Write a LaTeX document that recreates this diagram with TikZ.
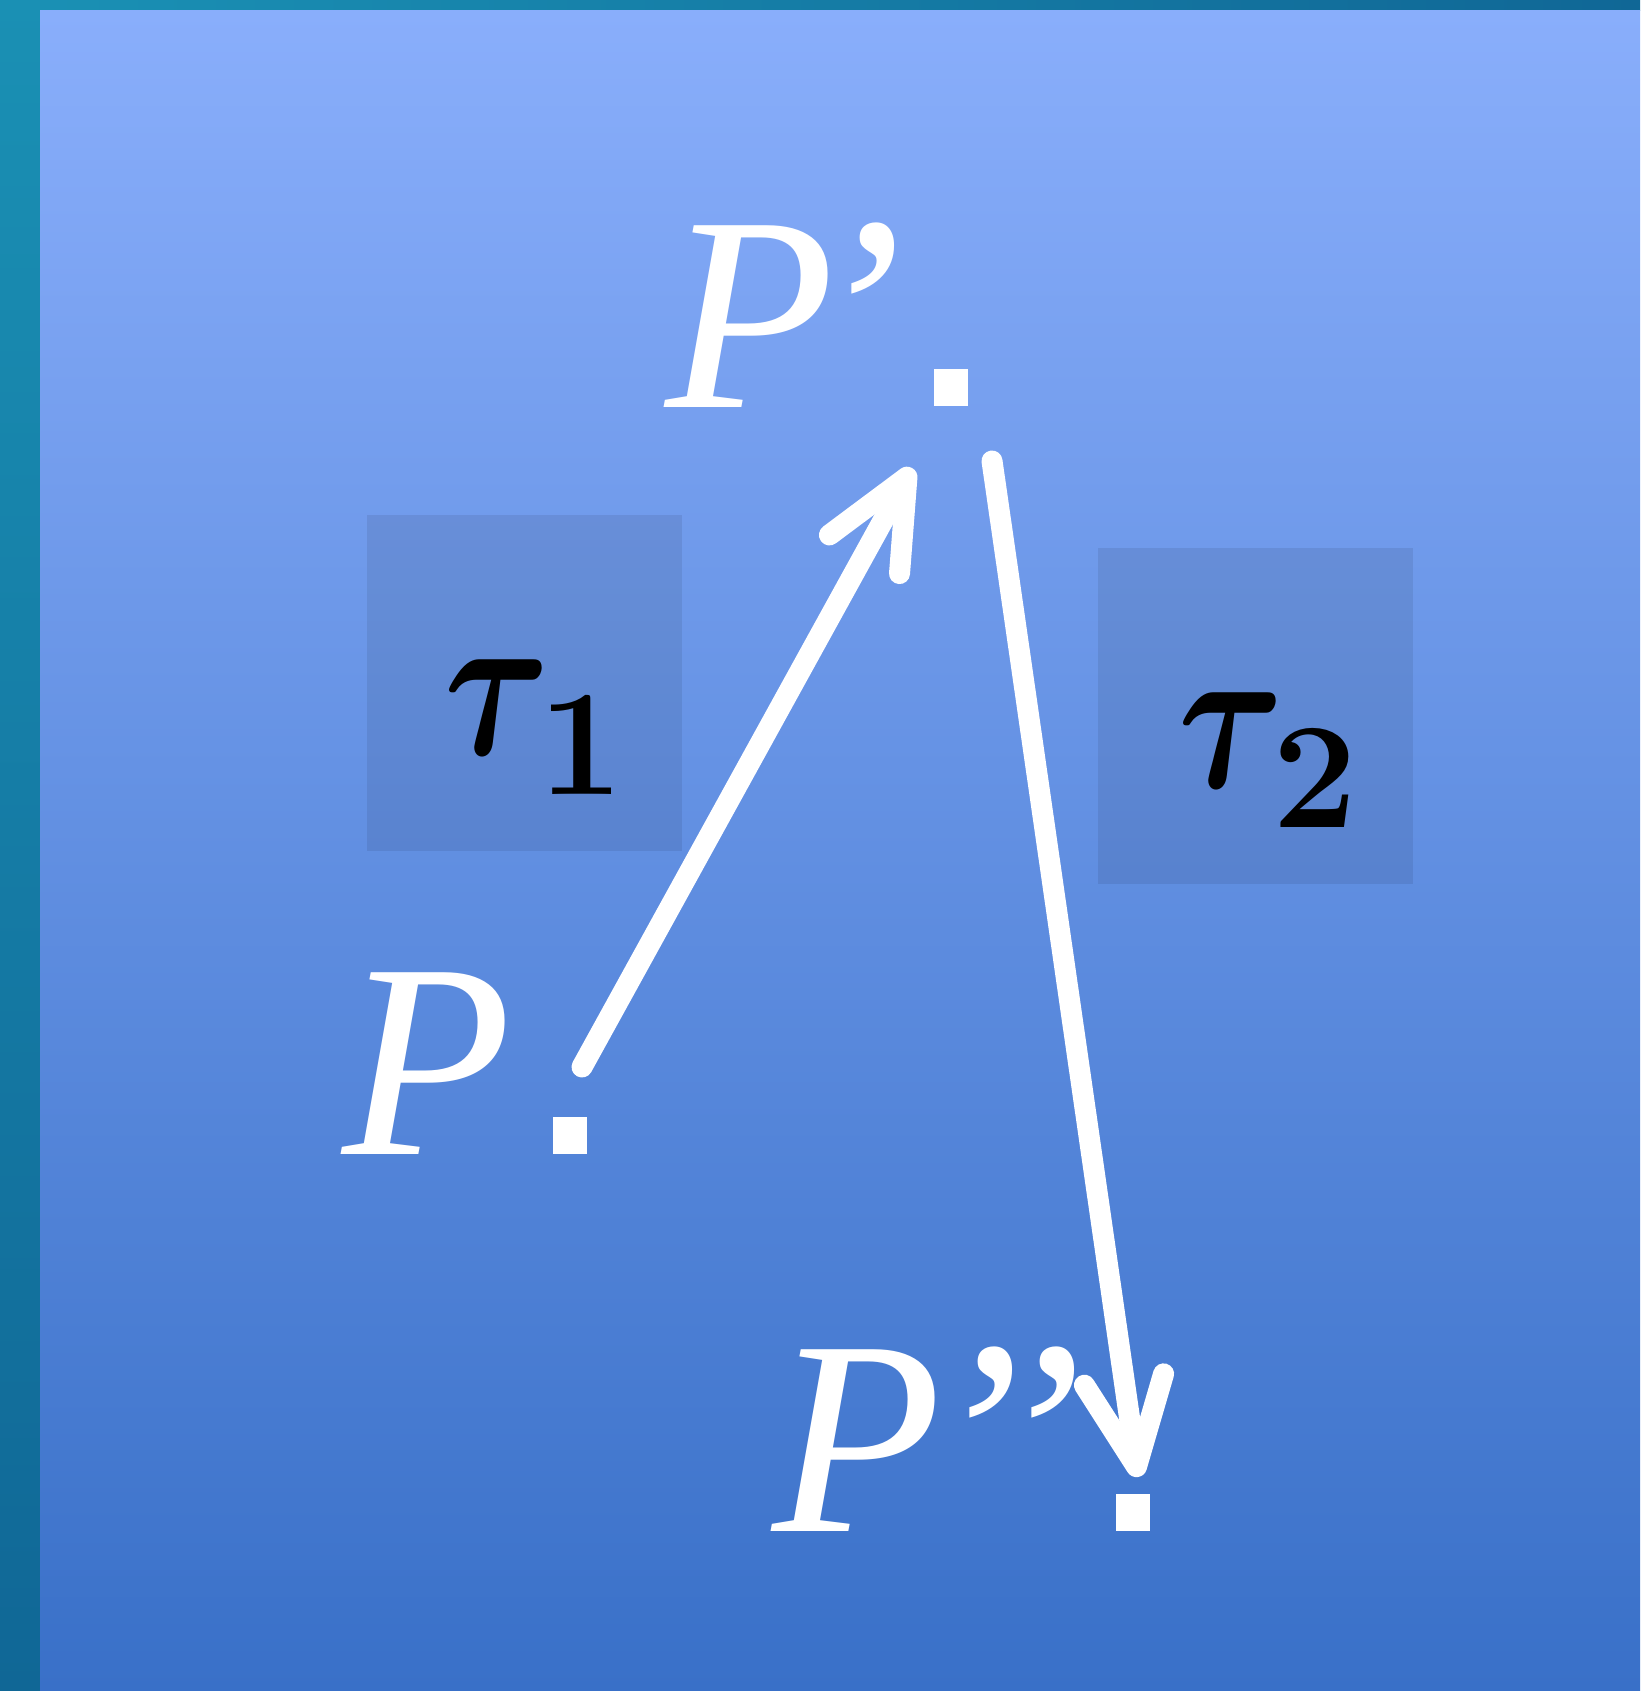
\RequirePackage{fix-cm}
\documentclass[tikz,border=0pt]{standalone}
\usepackage{fontspec}
\usetikzlibrary{arrows.meta,positioning}
\newfontfamily\labelfont{Liberation Serif}
\DeclareMathSizes{46}{46}{43}{33}
\newcommand{\tallTau}{\scalebox{1}[1.32]{$\tau$}}
\definecolor{panelTop}{RGB}{137,174,251}
\definecolor{panelBot}{RGB}{57,112,200}
\definecolor{frameA}{RGB}{26,144,180}
\definecolor{frameB}{RGB}{16,103,150}
\begin{document}
\begin{tikzpicture}[x=0.1mm,y=-0.1mm,line cap=round,
  dot/.style={fill=white,inner sep=0pt,minimum width=3.4mm,minimum height=3.7mm},
  plabel/.style={text=white,font=\labelfont\itshape\fontsize{79}{80}\selectfont,inner sep=0pt},
  tlabel/.style={text=black,font=\fontsize{46}{50}\selectfont\boldmath,inner sep=0pt},
  tbox/.style={fill=black,fill opacity=0.08,inner sep=0pt,minimum width=31.5mm,minimum height=33.6mm},
  move/.style={white,line width=2.1mm,-{Straight Barb[length=8.8mm,width=8mm,round]}}]
% background: frame and panel
\shade[top color=frameA,bottom color=frameB] (0,0) rectangle (40,1691);
\shade[left color=frameA,right color=frameB] (40,0) rectangle (1640,11);
\shade[top color=panelTop,bottom color=panelBot] (40,11) rectangle (1640,1691);
% shaded boxes behind the taus
\node[tbox] (box1) at (524,683) {};
\node[tbox] (box2) at (1255,716) {};
\node[tlabel] (tau1) at (535,727) {$\tallTau_{\kern-3.5pt 1}$};
\node[tlabel] (tau2) at (1269,760) {$\tallTau_{\kern-3.5pt 2}$};
% points
\node[dot] (pdot) at (570,1135) {};
\node[dot] (p1dot) at (951,388) {};
\node[dot] (p2dot) at (1133,1512) {};
% labels
\node[plabel,anchor=base east] (plab) at ([shift={(-40,0)}]pdot.south west) {P};
\node[plabel,anchor=base east] (p1lab) at ([shift={(-30,0)}]p1dot.south west) {P\kern-.09em’};
\node[plabel,anchor=base east] (p2lab) at ([shift={(-32,0)}]p2dot.south west) {P\kern-.05em’’};
% translations
\draw[move] ([shift={(12,-68)}]pdot.center) -- ([shift={(-39,80)}]p1dot.center);
\draw[move] ([shift={(41,73)}]p1dot.center) -- ([shift={(5,-35)}]p2dot.center);
\end{tikzpicture}
\end{document}
